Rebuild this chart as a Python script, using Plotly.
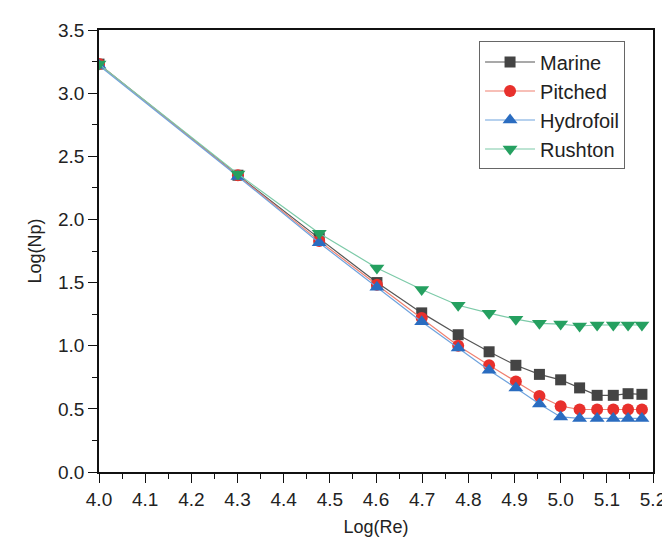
import plotly.graph_objects as go

log_re = [4.0, 4.301, 4.477, 4.602, 4.699, 4.778, 4.845, 4.903, 4.954, 5.0, 5.041, 5.079, 5.114, 5.146, 5.176]
marine = [3.23, 2.35, 1.85, 1.50, 1.26, 1.087, 0.952, 0.845, 0.773, 0.73, 0.666, 0.607, 0.607, 0.62, 0.615]
pitched = [3.23, 2.35, 1.83, 1.483, 1.22, 1.0, 0.845, 0.717, 0.602, 0.521, 0.495, 0.495, 0.495, 0.495, 0.495]
hydrofoil = [3.22, 2.34, 1.815, 1.462, 1.19, 0.982, 0.806, 0.666, 0.538, 0.436, 0.424, 0.424, 0.424, 0.424, 0.424]
rushton = [3.23, 2.36, 1.891, 1.616, 1.445, 1.32, 1.258, 1.21, 1.177, 1.171, 1.156, 1.164, 1.164, 1.164, 1.164]

series = [
    ("Marine", marine, "#555555", "#444444", "square", 11),
    ("Pitched", pitched, "#f08070", "#e8302c", "circle", 12),
    ("Hydrofoil", hydrofoil, "#6fa3dd", "#2a6cc0", "triangle-up", 13),
    ("Rushton", rushton, "#7ccaa8", "#25a060", "triangle-down", 13),
]

FONT = "Liberation Sans, Arial, sans-serif"

fig = go.Figure()
for name, ys, lc, mc, sym, sz in series:
    fig.add_trace(go.Scatter(
        x=log_re, y=ys, name=name, mode="lines+markers",
        line=dict(color=lc, width=1.2),
        marker=dict(color=mc, symbol=sym, size=sz, line=dict(width=0)),
    ))

axis_common = dict(
    showgrid=False, zeroline=False, showline=True, linecolor="#111111", linewidth=1.5,
    mirror=True, ticks="outside", ticklen=9, tickwidth=1.3, tickcolor="#111111",
    tickfont=dict(family=FONT, size=19, color="#222222"),
)

fig.update_xaxes(
    range=[4.0, 5.2], dtick=0.1, tick0=4.0, tickformat=".1f",
    minor=dict(dtick=0.05, ticks="outside", ticklen=5, tickcolor="#111111"),
    title=dict(text="Log(Re)", font=dict(family=FONT, size=18, color="#222222"), standoff=12),
    **axis_common,
)
fig.update_yaxes(
    range=[0, 3.5], dtick=0.5, tick0=0, tickformat=".1f",
    minor=dict(dtick=0.25, ticks="outside", ticklen=5, tickcolor="#111111"),
    title=dict(text="Log(Np)", font=dict(family=FONT, size=18, color="#222222"), standoff=12),
    **axis_common,
)

fig.update_layout(
    width=670, height=538,
    margin=dict(l=91, r=13, t=15, b=66),
    plot_bgcolor="white", paper_bgcolor="white",
    legend=dict(
        x=0.686, y=0.974, xanchor="left", yanchor="top",
        bordercolor="#666666", borderwidth=1, bgcolor="white",
        font=dict(family=FONT, size=20, color="#222222"),
        tracegroupgap=0, itemwidth=50,
    ),
)

fig.write_html("out.html")
